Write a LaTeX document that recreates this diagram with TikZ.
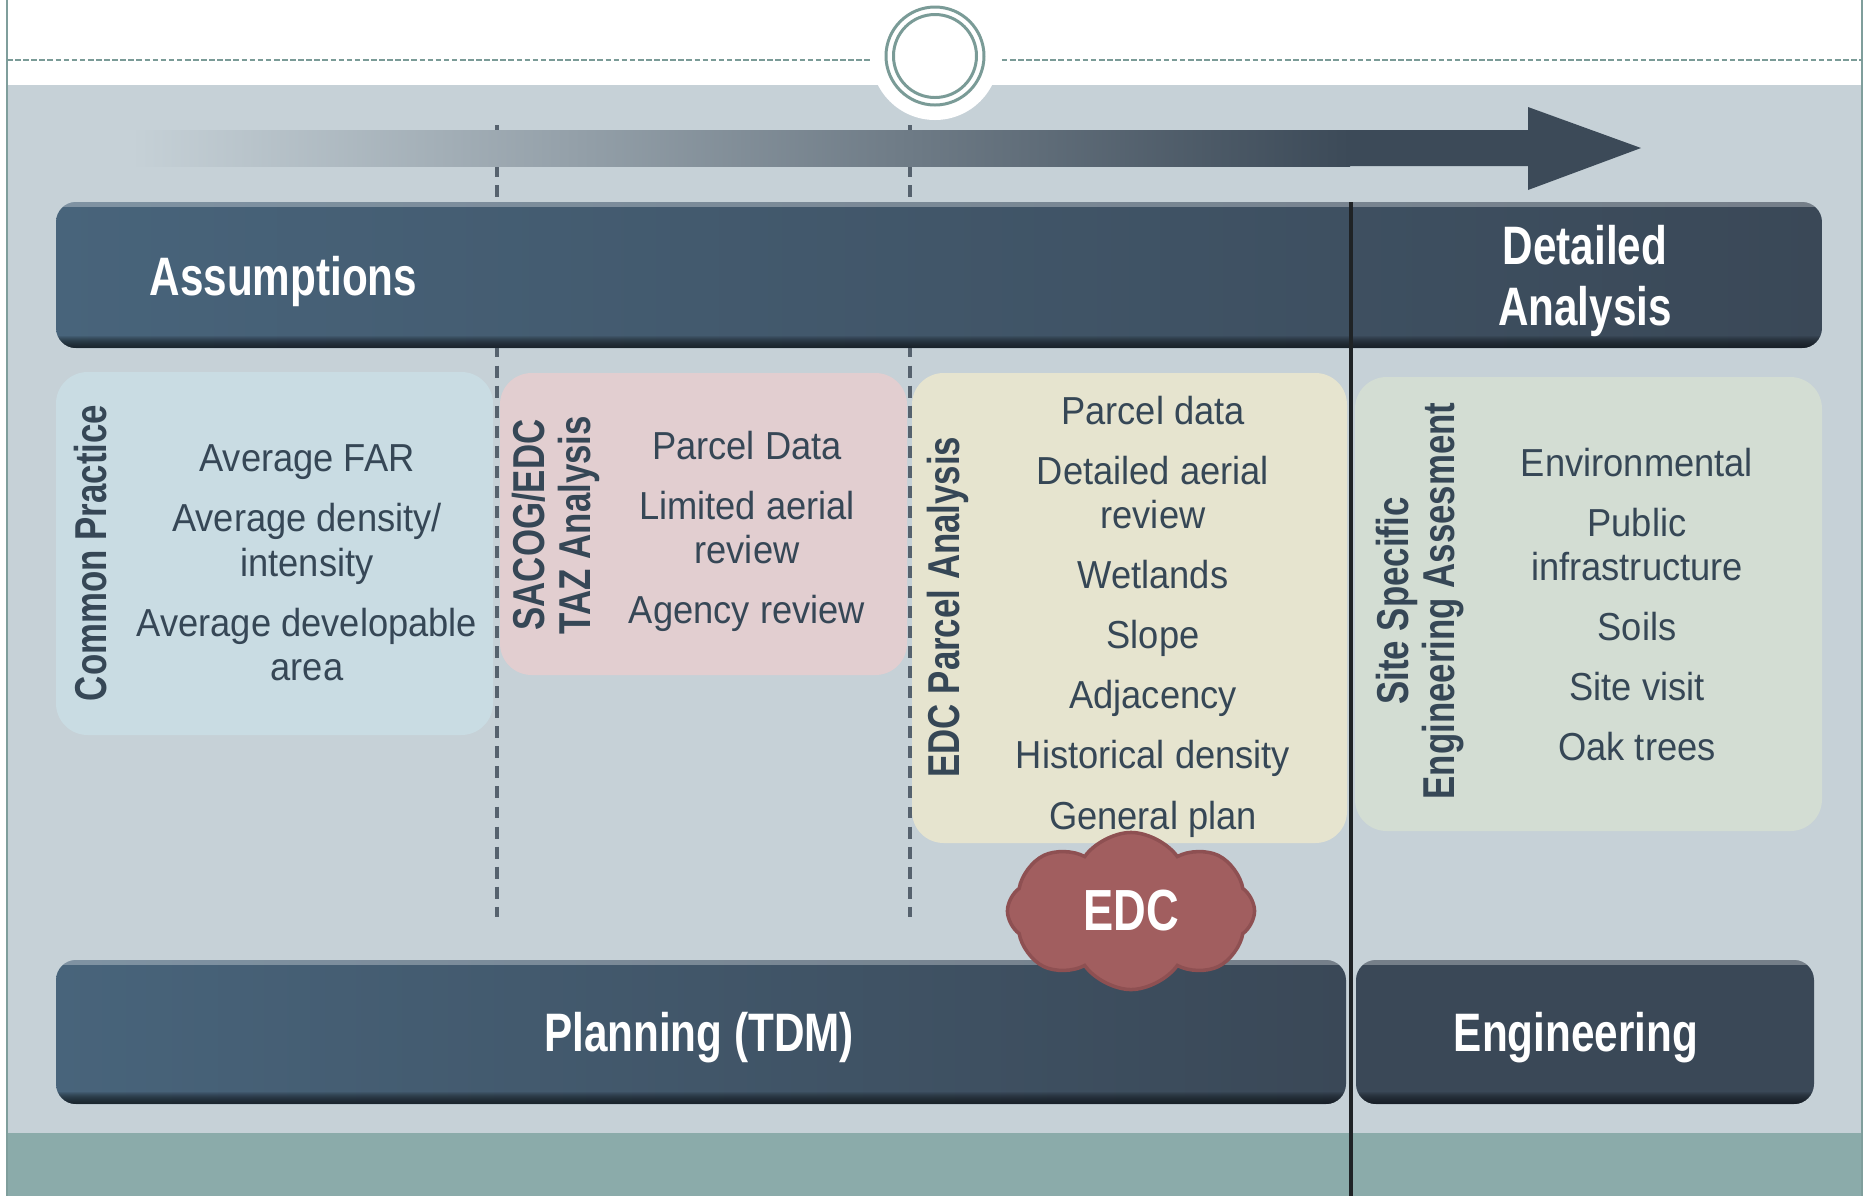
\documentclass[tikz,border=0pt]{standalone}
\usepackage{fontspec}
\setmainfont{Liberation Sans}
\newfontfamily\itemfont{Liberation Sans}[FakeStretch=0.93]
\newfontfamily\headfont{Liberation Sans}[FakeStretch=0.78]
\usetikzlibrary{shapes.symbols}

\definecolor{bggrey}{HTML}{C6D1D7}
\definecolor{tealband}{HTML}{8BABAA}
\definecolor{frame}{HTML}{7F9E9C}
\definecolor{ring}{HTML}{7A9B97}
\definecolor{arrowdark}{HTML}{3C4A58}
\definecolor{barL}{HTML}{48647B}
\definecolor{barR}{HTML}{3A4857}
\definecolor{barshadow}{HTML}{11171C}
\definecolor{stageline}{HTML}{56626E}
\definecolor{phase}{HTML}{1F2326}
\definecolor{txt}{HTML}{364756}
\definecolor{cpblue}{HTML}{C9DCE3}
\definecolor{tazpink}{HTML}{E2CED0}
\definecolor{edcyellow}{HTML}{E6E4CF}
\definecolor{ssegreen}{HTML}{D3DDD3}
\definecolor{edcred}{HTML}{A15E5F}
\definecolor{edcdark}{HTML}{8E5052}

% bar with light top edge and dark bottom edge (x1,y1,x2,y2 in px)
\newcommand{\shadedbar}[5][]{%
	\shade[barbody, #1] (#2,#3) rectangle (#4,#5);
	\begin{scope}
		\clip[rounded corners=5.7pt] (#2,#3) rectangle (#4,#5);
		\fill[white, opacity=0.3] (#2,#3) rectangle (#4,#3+5);
		\foreach \k in {1,...,12} \fill[barshadow, opacity=0.11] (#2,#5-\k) rectangle (#4,#5);
	\end{scope}}

\begin{document}
\begin{tikzpicture}[x=0.01cm, y=-0.01cm,
	items/.style={font=\itemfont\fontsize{11.1}{12.6}\selectfont, text=txt, align=center, inner sep=0pt, anchor=north},
	boxtitle/.style={font=\headfont\bfseries\fontsize{12.7}{13}\selectfont, text=txt, align=center, inner sep=0pt, rotate=90},
	barlabel/.style={font=\headfont\bfseries\fontsize{15.4}{17.6}\selectfont, text=white, inner sep=0pt},
	barbody/.style={left color=barL, right color=barR, rounded corners=5.7pt},
	panel/.style={rounded corners=9pt},
	stage/.style={draw=stageline, line width=1pt, dash pattern=on 3.4pt off 2.3pt}]
	\useasboundingbox (0,0) rectangle (1865,1196);
	
	\fill[white] (0,0) rectangle (1865,1196);
	\fill[bggrey] (7,85) rectangle (1862,1133);			% Hintergrund
	\fill[tealband] (7,1133) rectangle (1862,1196);		% Band unten
	\draw[frame, line width=0.6pt] (7,0) -- (7,1196);
	\draw[frame, line width=0.6pt] (1862,0) -- (1862,1196);
	
	\draw[ring, line width=0.6pt, dash pattern=on 1.6pt off 0.7pt] (7,60) -- (1862,60);
	\fill[white] (935,56) circle (64);					% Kreis oben
	\draw[ring, line width=0.85pt] (935,56) circle (49);
	\draw[ring, line width=0.85pt] (935,56) circle (41.5);
	
	\draw[stage] (497,125) -- (497,917);				% Stufen
	\draw[stage] (910,125) -- (910,917);
	
	% Zeitpfeil
	\shade[left color=bggrey, right color=arrowdark] (131,130) rectangle (1350,166);
	\fill[arrowdark] (1349,130) -- (1528,130) -- (1528,107) -- (1641,148) -- (1528,190) -- (1528,166) -- (1349,166) -- cycle;
	
	\fill[panel, cpblue] (56,372) rectangle (493,735);
	\fill[panel, tazpink] (500,373) rectangle (907,675);
	\fill[panel, edcyellow] (912,373) rectangle (1347,843);
	\fill[panel, ssegreen] (1355,377) rectangle (1822,831);
	
	\shadedbar{56}{202}{1822}{348}
	\shadedbar{56}{960}{1346}{1104}
	\shadedbar[left color=barR]{1356}{960}{1814}{1104}
	
	\draw[phase, line width=1.4pt] (1351,202) -- (1351,1196);	% Trennlinie
	
	\node[boxtitle] (cpTitle) at (91,553) {Common Practice};
	\node[items] (cpItems) at (307,444) {Average FAR\\[4.5pt] Average density/\\intensity\\[4.5pt] Average developable\\area};
	\node[boxtitle] (tazTitle) at (556,525) {SACOG/EDC\\TAZ Analysis};
	\node[items] (tazItems) at (747,430) {Parcel Data\\[4.5pt] Limited aerial\\review\\[4.5pt] Agency review};
	\node[boxtitle] (edcTitle) at (948,607) {EDC Parcel Analysis};
	\node[items] (edcItems) at (1153,395) {Parcel data\\[4.5pt] Detailed aerial\\review\\[4.5pt] Wetlands\\[4.5pt] Slope\\[4.5pt] Adjacency\\[4.5pt] Historical density\\[4.5pt] General plan};
	\node[boxtitle] (sseTitle) at (1420,601) {Site Specific\\Engineering Assesment};
	\node[items] (sseItems) at (1637,447) {Environmental\\[4.5pt] Public\\infrastructure\\[4.5pt] Soils\\[4.5pt] Site visit\\[4.5pt] Oak trees};
	
	\node[barlabel, anchor=base west] (assume) at (149,295) {Assumptions};
	\node[barlabel, align=center] (detail) at (1585,281) {Detailed\\Analysis};
	\node[barlabel, anchor=base] (plan) at (699,1051) {Planning (TDM)};
	\node[barlabel, anchor=base] (engin) at (1576,1051) {Engineering};
	
	\node[cloud, cloud puffs=8, cloud puff arc=110, aspect=1.55, minimum width=2.47cm, minimum height=1.57cm, inner sep=0pt,
		fill=edcred, draw=edcdark, line width=1pt, text=white, font=\headfont\bfseries\fontsize{16.5}{18}\selectfont] (edc) at (1131,911) {EDC};
\end{tikzpicture}
\end{document}
